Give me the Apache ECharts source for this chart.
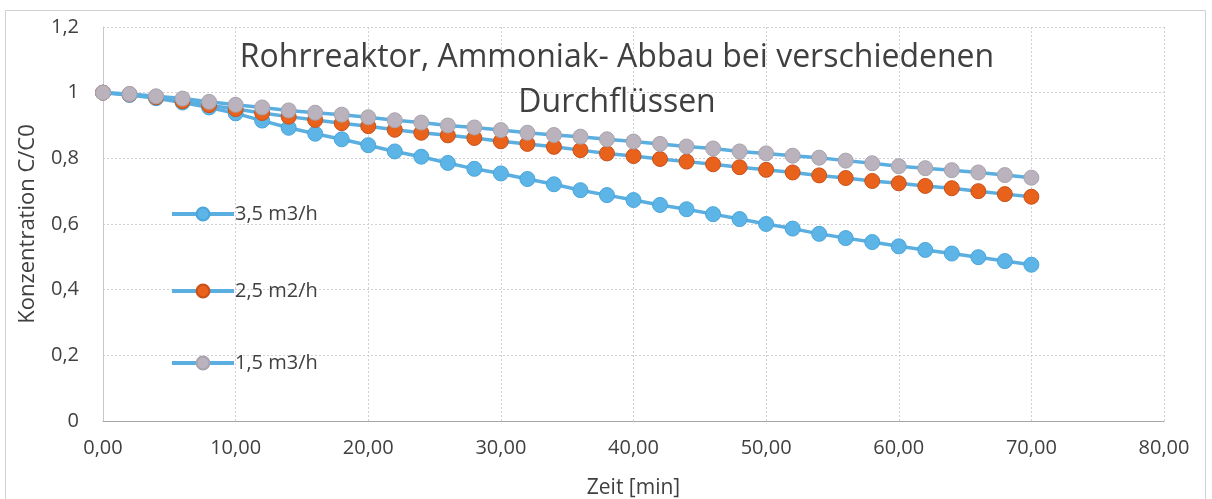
<!DOCTYPE html>
<html>
<head>
<meta charset="utf-8">
<script src="https://cdn.jsdelivr.net/npm/echarts@6/dist/echarts.min.js"></script>
<style>html,body{margin:0;padding:0;background:#fff;}#c{width:1212px;height:499px;}</style>
</head>
<body>
<div id="c"></div>
<script>
const times = [0,2,4,6,8,10,12,14,16,18,20,22,24,26,28,30,32,34,36,38,40,42,44,46,48,50,52,54,56,58,60,62,64,66,68,70];
const seriesNames = ['3,5 m3/h', '2,5 m2/h', '1,5 m3/h'];
const flow35 = [1.0,0.993,0.983,0.970,0.955,0.937,0.915,0.893,0.875,0.858,0.840,0.821,0.805,0.786,0.768,0.754,0.737,0.721,0.703,0.688,0.673,0.658,0.645,0.630,0.615,0.600,0.586,0.570,0.557,0.545,0.532,0.521,0.510,0.499,0.487,0.476];
const flow25 = [1.0,0.995,0.986,0.974,0.962,0.950,0.938,0.927,0.917,0.907,0.898,0.887,0.878,0.870,0.862,0.852,0.844,0.835,0.825,0.815,0.807,0.798,0.790,0.782,0.773,0.765,0.757,0.748,0.740,0.731,0.724,0.716,0.709,0.700,0.691,0.683];
const flow15 = [1.0,0.996,0.989,0.982,0.972,0.963,0.955,0.946,0.939,0.933,0.925,0.916,0.909,0.900,0.894,0.886,0.878,0.871,0.866,0.858,0.851,0.844,0.836,0.830,0.821,0.815,0.808,0.802,0.793,0.785,0.776,0.770,0.764,0.757,0.749,0.741];
const titleLines = ['Rohrreaktor, Ammoniak- Abbau bei verschiedenen', 'Durchflüssen'];
const xAxisName = 'Zeit [min]';
const yAxisName = 'Konzentration C/C0';

const FONT = '"Open Sans", "Noto Sans", sans-serif';
const lineColor = '#5aafe0';
const markerFill = ['#5cb5e6', '#e8621c', '#bab3be'];
const markerBorder = ['#4aa6da', '#c9501a', '#a9a3ad'];

function pairs(vals){ return times.map((t,i)=>[t, vals[i]]); }
const allVals = [flow35, flow25, flow15];

const chart = echarts.init(document.getElementById('c'), null, {renderer:'canvas'});
const fmt = v => v.toFixed(2).replace('.', ',');
const fmtY = v => (Math.round(v*10)/10).toString().replace('.', ',');

const series = seriesNames.map((n,i)=>({
  name: n,
  type: 'line',
  data: pairs(allVals[i]),
  symbol: 'circle',
  symbolSize: 15,
  z: 2 + i,
  lineStyle: {color: lineColor, width: 3.5},
  itemStyle: {color: markerFill[i], borderColor: markerBorder[i], borderWidth: 1},
  emphasis: {disabled: true},
  animation: false
}));

const legendTops = [204, 281, 353];
const legends = seriesNames.map((n,i)=>({
  data: [{name: n}],
  left: 170, top: legendTops[i], padding: 0,
  itemWidth: 62, itemHeight: 16, itemGap: 0,
  selectedMode: false,
  lineStyle: {width: 4, color: lineColor},
  textStyle: {fontFamily: FONT, fontSize: 20, color: '#404040', padding: [0,0,0,-4]}
}));

chart.setOption({
  backgroundColor: '#fff',
  animation: false,
  title: {
    text: titleLines.join('\n'),
    left: 612, top: 30, textAlign: 'center',
    textStyle: {fontFamily: FONT, fontSize: 32, fontWeight: 'normal', color: '#404040', lineHeight: 45}
  },
  legend: legends,
  graphic: [{
    type: 'rect', shape: {x: 5.5, y: 10.5, width: 1200, height: 500},
    style: {fill: 'none', stroke: '#d0d0d0', lineWidth: 1}, silent: true, z: -10
  }],
  grid: {left: 103, top: 27, width: 1061, height: 394, containLabel: false, outerBoundsMode: 'none'},
  xAxis: {
    type: 'value', min: 0, max: 80, interval: 10,
    name: xAxisName, nameLocation: 'middle', nameGap: 57,
    nameTextStyle: {fontFamily: FONT, fontSize: 21, color: '#404040'},
    axisLine: {show: true, lineStyle: {color: '#a6a6a6', width: 1}},
    axisTick: {show: false},
    axisLabel: {formatter: fmt, fontFamily: FONT, fontSize: 20, color: '#404040', margin: 17},
    splitLine: {show: true, lineStyle: {color: '#cfcfd6', width: 1, type: [2,2]}}
  },
  yAxis: {
    type: 'value', min: 0, max: 1.2, interval: 0.2,
    name: yAxisName, nameLocation: 'middle', nameGap: 64, nameRotate: 90,
    nameTextStyle: {fontFamily: FONT, fontSize: 22, color: '#404040'},
    axisLine: {show: true, lineStyle: {color: '#c8c8d0', width: 1}},
    axisTick: {show: false},
    axisLabel: {formatter: fmtY, fontFamily: FONT, fontSize: 20, color: '#404040', margin: 24},
    splitLine: {show: true, lineStyle: {color: '#cfcfd6', width: 1, type: [2,2]}}
  },
  series: series
});
</script>
</body>
</html>
